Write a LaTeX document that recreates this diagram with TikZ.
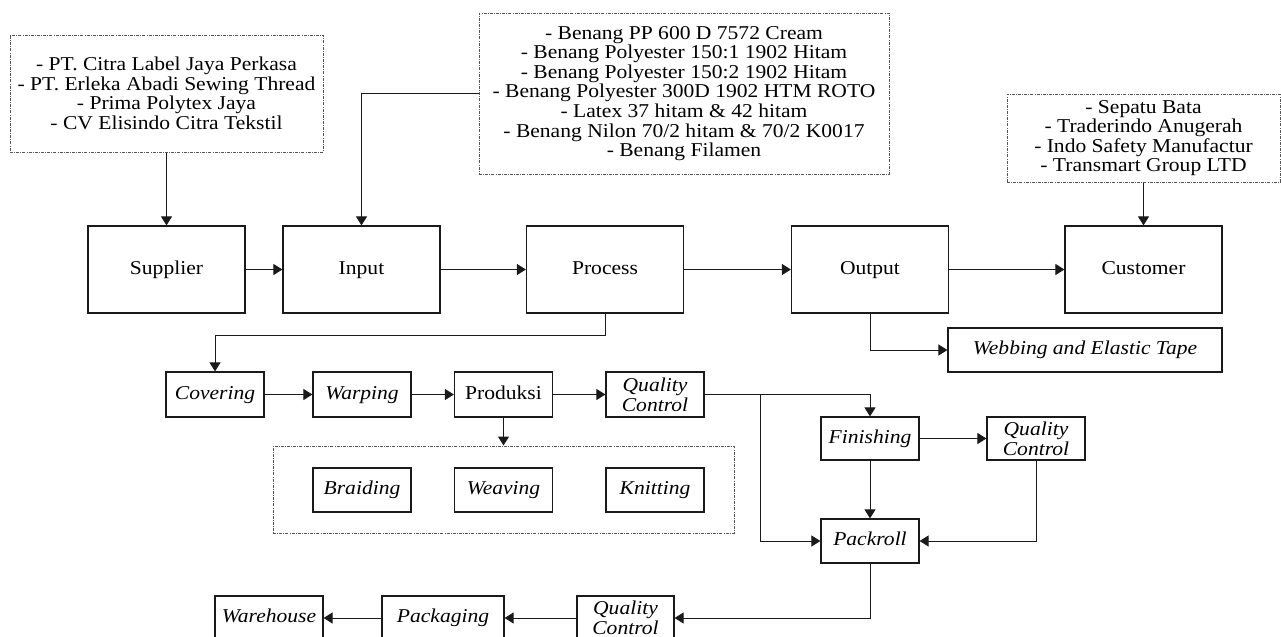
\documentclass[tikz,border=0pt]{standalone}
\usepackage{fontspec}
\setmainfont{Liberation Serif}[FakeStretch=1.1]
\usetikzlibrary{arrows.meta}
\definecolor{scmInk}{HTML}{1A1A1A}
\definecolor{scmFrame}{HTML}{555555}
\tikzset{
  scm box/.style={draw=scmInk, line width=0.6pt, inner sep=0pt, align=center},
  scm one/.style={scm box, text height=6.8pt, text depth=2.2pt},
  scm size/.style 2 args={minimum width=#1*0.5pt, minimum height=#2*0.5pt},
  scm em/.style={font=\fontsize{9.8pt}{9.8pt}\selectfont\itshape},
  scm list/.style={draw=scmFrame, line width=0.5pt, dash pattern=on 1.5pt off 0.6pt on 0.4pt off 0.6pt, inner sep=0pt, align=center},
  scm arrow/.style={draw=scmInk, line width=0.5pt, -{Triangle[length=4.5pt,width=5.5pt]}},
}

\begin{document}
\begin{tikzpicture}[x=0.5pt, y=-0.5pt, font=\fontsize{9.8pt}{9.8pt}\selectfont]
  \useasboundingbox (0,0) rectangle (1281,637);
  % Lists above the main chain
  \node[scm list, scm size={313}{117}] (suplist) at (166.5,93.5)
    {- PT. Citra Label Jaya Perkasa\\- PT. Erleka Abadi Sewing Thread\\- Prima Polytex Jaya\\- CV Elisindo Citra Tekstil};
  \node[scm list, scm size={410}{161}] (matlist) at (684,93.5)
    {- Benang PP 600 D 7572 Cream\\- Benang Polyester 150:1 1902 Hitam\\- Benang Polyester 150:2 1902 Hitam\\- Benang Polyester 300D 1902 HTM ROTO\\- Latex 37 hitam \& 42 hitam\\- Benang Nilon 70/2 hitam \& 70/2 K0017\\- Benang Filamen};
  \node[scm list, scm size={273}{88}] (custlist) at (1143.5,138)
    {- Sepatu Bata\\- Traderindo Anugerah\\- Indo Safety Manufactur\\- Transmart Group LTD};
  % Main chain
  \node[scm one, scm size={157}{87}] (supplier) at (166.5,269.5) {Supplier};
  \node[scm one, scm size={157}{87}] (input) at (361.5,269.5) {Input};
  \node[scm one, scm size={157}{87}] (process) at (605,269.5) {Process};
  \node[scm one, scm size={157}{87}] (output) at (870,269.5) {Output};
  \node[scm one, scm size={157}{87}] (customer) at (1143.5,269.5) {Customer};
  \node[scm one, scm em, scm size={274}{44}] (webbing) at (1085,350) {Webbing and Elastic Tape};
  % Production steps
  \node[scm one, scm em, scm size={98}{45}] (covering) at (215,394.5) {Covering};
  \node[scm one, scm em, scm size={98}{45}] (warping) at (362,394.5) {Warping};
  \node[scm one, scm size={98}{45}] (produksi) at (503.5,394.5) {Produksi};
  \node[scm box, scm em, scm size={98}{45}] (qcone) at (655,394.5) {Quality\\Control};
  \node[scm list, scm size={461}{87}] (methods) at (503.5,489.5) {};
  \node[scm one, scm em, scm size={98}{44}] (braiding) at (362,490) {Braiding};
  \node[scm one, scm em, scm size={98}{44}] (weaving) at (503.5,490) {Weaving};
  \node[scm one, scm em, scm size={98}{44}] (knitting) at (655,490) {Knitting};
  \node[scm one, scm em, scm size={98}{43}] (finishing) at (870,438.5) {Finishing};
  \node[scm box, scm em, scm size={98}{43}] (qctwo) at (1036,438.5) {Quality\\Control};
  \node[scm one, scm em, scm size={98}{44}] (packroll) at (870,541) {Packroll};
  \node[scm box, scm em, scm size={97}{44}] (qcthree) at (625.5,618) {Quality\\Control};
  \node[scm one, scm em, scm size={122}{44}] (packaging) at (443,618) {Packaging};
  \node[scm one, scm em, scm size={108}{44}] (warehouse) at (269,618) {Warehouse};
  % Connectors
  \draw[scm arrow] (suplist) -- (supplier);
  \draw[scm arrow] (matlist.west) -| (input.north);
  \draw[scm arrow] (custlist) -- (customer);
  \draw[scm arrow] (supplier) -- (input);
  \draw[scm arrow] (input) -- (process);
  \draw[scm arrow] (process) -- (output);
  \draw[scm arrow] (output) -- (customer);
  \draw[scm arrow] (output.south) |- (webbing.west);
  \draw[scm arrow] (process.south) -- ++(0,22) -| (covering.north);
  \draw[scm arrow] (covering) -- (warping);
  \draw[scm arrow] (warping) -- (produksi);
  \draw[scm arrow] (produksi) -- (qcone);
  \draw[scm arrow] (produksi) -- (methods);
  \draw[scm arrow] (qcone.east) -| (finishing.north);
  \path (qcone.east) -- ++(56,0) coordinate (fork);
  \draw[scm arrow] (fork) |- (packroll.west);
  \draw[scm arrow] (finishing) -- (qctwo);
  \draw[scm arrow] (finishing) -- (packroll);
  \draw[scm arrow] (qctwo.south) |- (packroll.east);
  \draw[scm arrow] (packroll.south) |- (qcthree.east);
  \draw[scm arrow] (qcthree) -- (packaging);
  \draw[scm arrow] (packaging) -- (warehouse);
\end{tikzpicture}
\end{document}
